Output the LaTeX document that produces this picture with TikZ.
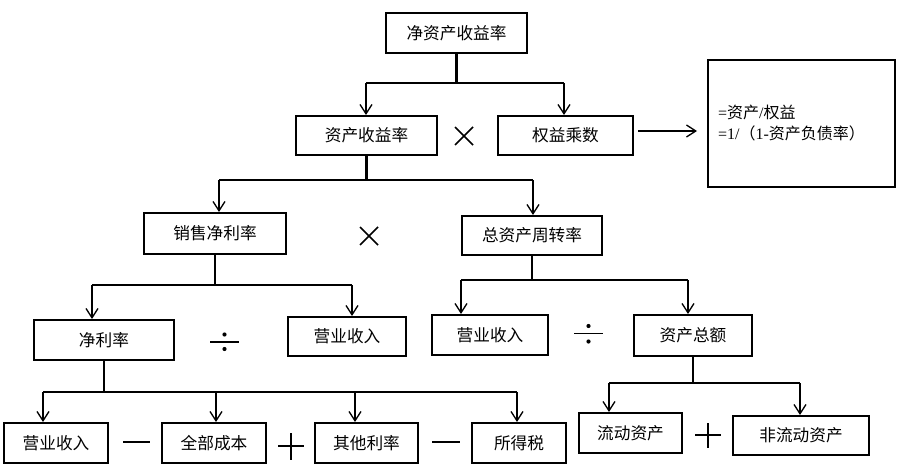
\documentclass[tikz,border=0pt]{standalone}
\usepackage{fontspec}
\setmainfont{Liberation Serif}
\newfontfamily\cjk{Noto Sans CJK SC}
\usetikzlibrary{arrows.meta}
\begin{document}
\begin{tikzpicture}[x=0.75pt,y=-0.75pt,
 box/.style={draw,line width=1.5pt,inner sep=0pt,font=\cjk\fontsize{12.5pt}{15pt}\selectfont},
 stem/.style={line width=1.6pt},
 arr/.style={line width=1pt,-{Straight Barb[length=7pt,width=9pt]}},
 op/.style={line width=1.3pt}]
\useasboundingbox (0,0) rectangle (901,464);
% boxes
\node[box,minimum width=105.75pt,minimum height=30pt] (roe) at (456.5,33) {净资产收益率};
\node[box,minimum width=105.75pt,minimum height=29.25pt] (roa) at (366.5,135.5) {资产收益率};
\node[box,minimum width=101.25pt,minimum height=29.25pt] (em) at (565.5,135.5) {权益乘数};
\node[box,minimum width=140.25pt,minimum height=95.25pt,text width=125pt,align=left,
      font=\fontsize{12pt}{15.75pt}\selectfont] (note) at (801.5,123.5)
      {={\cjk 资产}/{\cjk 权益}\\=1/{\cjk （}1-{\cjk 资产负债率）}};
\node[box,minimum width=106.5pt,minimum height=30.75pt] (npm) at (215,233.5) {销售净利率};
\node[box,minimum width=105pt,minimum height=29.25pt] (tat) at (532,235.5) {总资产周转率};
\node[box,minimum width=105pt,minimum height=30pt] (nr) at (104,340) {净利率};
\node[box,minimum width=88.5pt,minimum height=29.25pt] (rev1) at (347,336.5) {营业收入};
\node[box,minimum width=87pt,minimum height=30pt] (rev2) at (490,335) {营业收入};
\node[box,minimum width=88.5pt,minimum height=30.75pt] (ta) at (693,335.5) {资产总额};
\node[box,minimum width=78pt,minimum height=30pt] (rev3) at (56,443) {营业收入};
\node[box,minimum width=78pt,minimum height=30pt] (cost) at (214,443) {全部成本};
\node[box,minimum width=77.25pt,minimum height=30pt] (oth) at (366.5,443) {其他利率};
\node[box,minimum width=70.5pt,minimum height=30pt] (tax) at (519,443) {所得税};
\node[box,minimum width=77.25pt,minimum height=30pt] (ca) at (630.5,433) {流动资产};
\node[box,minimum width=102pt,minimum height=29.25pt] (nca) at (801,435.5) {非流动资产};
% tree 1
\draw[stem] (roe.south) -- (roe.south |- 0,83);
\draw[stem] (366,83) -- (564,83);
\draw[arr] (366,83) -- (366,83 |- roa.north);
\draw[arr] (564,83) -- (564,83 |- em.north);
% tree 2
\draw[stem] (roa.south) -- (roa.south |- 0,180);
\draw[stem] (219,180) -- (533,180);
\draw[arr] (219,180) -- (219,180 |- npm.north);
\draw[arr] (533,180) -- (533,180 |- tat.north);
% tree 3
\draw[stem] (npm.south) -- (npm.south |- 0,285);
\draw[stem] (92,285) -- (352,285);
\draw[arr] (92,285) -- (92,285 |- nr.north);
\draw[arr] (352,285) -- (352,285 |- rev1.north);
% tree 4
\draw[stem] (tat.south) -- (tat.south |- 0,280);
\draw[stem] (461,280) -- (688,280);
\draw[arr] (461,280) -- (461,280 |- rev2.north);
\draw[arr] (688,280) -- (688,280 |- ta.north);
% tree 5
\draw[stem] (nr.south) -- (nr.south |- 0,392);
\draw[stem] (43,392) -- (517,392);
\draw[arr] (43,392) -- (43,392 |- rev3.north);
\draw[arr] (216,392) -- (216,392 |- cost.north);
\draw[arr] (355,392) -- (355,392 |- oth.north);
\draw[arr] (517,392) -- (517,392 |- tax.north);
% tree 6
\draw[stem] (ta.south) -- (ta.south |- 0,383);
\draw[stem] (609,383) -- (800,383);
\draw[arr] (609,383) -- (609,383 |- ca.north);
\draw[arr] (800,383) -- (800,383 |- nca.north);
% em -> note
\draw[arr,shorten <=3pt,shorten >=7.5pt] (em.east |- 0,131) -- (note.west |- 0,131);
% operators
\draw[op] (455,127) -- (473,145) (455,145) -- (473,127);
\draw[op] (360,227) -- (378,245) (360,245) -- (378,227);
\draw[op] (210,342) -- (239,342);
\fill (224.5,334.5) circle (2.1) (224.5,349) circle (2.1);
\draw[op] (574,333.5) -- (603,333.5);
\fill (588.5,326) circle (2.1) (588.5,341.5) circle (2.1);
\draw[op] (123,442) -- (150,442);
\draw[op] (432,442) -- (460,442);
\draw[op] (278,446) -- (304,446) (291,433) -- (291,460);
\draw[op] (695,435) -- (721,435) (708,423) -- (708,448);
\end{tikzpicture}
\end{document}
